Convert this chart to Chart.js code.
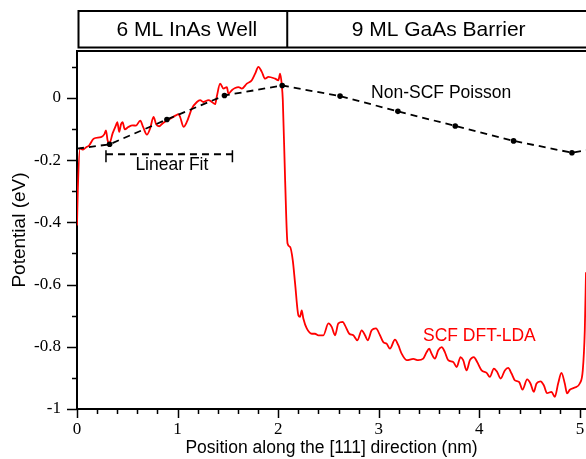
<!DOCTYPE html>
<html>
<head>
<meta charset="utf-8">
<script src="https://cdn.jsdelivr.net/npm/chart.js@4/dist/chart.umd.min.js"></script>
<style>
  html, body { margin: 0; padding: 0; background: #fff; }
  #wrap { width: 586px; height: 459px; position: relative; }
</style>
</head>
<body>
<div id="wrap"><canvas id="c" width="586" height="459"></canvas></div>
<script>
// ---------- DATA ----------
const redX = [0.000, 0.008, 0.030, 0.056, 0.089, 0.122, 0.165, 0.238, 0.271, 0.288,
  0.304, 0.321, 0.354, 0.387, 0.401, 0.420, 0.437, 0.453, 0.475, 0.512,
  0.552, 0.586, 0.629, 0.658, 0.695, 0.728, 0.761, 0.787, 0.817, 0.850,
  0.894, 0.936, 0.983, 1.009, 1.026, 1.059, 1.092, 1.142, 1.192, 1.224,
  1.257, 1.307, 1.341, 1.373, 1.390, 1.423, 1.456, 1.490, 1.505, 1.539,
  1.572, 1.605, 1.639, 1.688, 1.738, 1.771, 1.803, 1.837, 1.870, 1.903,
  1.969, 2.002, 2.019, 2.036, 2.046, 2.069, 2.093, 2.118, 2.145, 2.168,
  2.201, 2.217, 2.234, 2.250, 2.284, 2.334, 2.366, 2.399, 2.449, 2.499,
  2.532, 2.565, 2.598, 2.642, 2.664, 2.707, 2.747, 2.787, 2.830, 2.863,
  2.890, 2.929, 2.972, 3.012, 3.045, 3.078, 3.111, 3.161, 3.194, 3.227,
  3.277, 3.343, 3.392, 3.442, 3.476, 3.501, 3.525, 3.558, 3.591, 3.625,
  3.657, 3.690, 3.740, 3.774, 3.813, 3.839, 3.873, 3.906, 3.945, 3.978,
  4.022, 4.072, 4.104, 4.144, 4.177, 4.211, 4.253, 4.286, 4.320, 4.353,
  4.395, 4.429, 4.475, 4.508, 4.541, 4.568, 4.608, 4.641, 4.673, 4.717,
  4.750, 4.783, 4.816, 4.849, 4.872, 4.899, 4.948, 4.998, 5.028, 5.048,
  5.060];
const redY = [-0.410, -0.297, -0.162, -0.166, -0.159, -0.152, -0.131, -0.126, -0.117, -0.104,
  -0.136, -0.147, -0.114, -0.088, -0.078, -0.109, -0.085, -0.078, -0.101, -0.093,
  -0.088, -0.089, -0.073, -0.094, -0.118, -0.097, -0.061, -0.085, -0.091, -0.082,
  -0.072, -0.065, -0.056, -0.052, -0.062, -0.093, -0.077, -0.034, -0.013, -0.007,
  -0.013, -0.007, -0.013, -0.020, 0.005, 0.046, 0.030, 0.035, 0.014, 0.025,
  0.032, 0.035, 0.030, 0.046, 0.057, 0.078, 0.100, 0.084, 0.062, 0.068,
  0.062, 0.057, 0.078, 0.041, -0.007, -0.265, -0.468, -0.479, -0.522, -0.596,
  -0.699, -0.704, -0.683, -0.709, -0.741, -0.758, -0.758, -0.763, -0.763, -0.725,
  -0.736, -0.763, -0.725, -0.720, -0.731, -0.758, -0.763, -0.779, -0.747, -0.763,
  -0.779, -0.747, -0.741, -0.763, -0.785, -0.790, -0.806, -0.777, -0.795, -0.822,
  -0.843, -0.839, -0.843, -0.838, -0.817, -0.806, -0.822, -0.838, -0.811, -0.801,
  -0.817, -0.843, -0.849, -0.865, -0.833, -0.843, -0.876, -0.843, -0.833, -0.849,
  -0.876, -0.884, -0.897, -0.870, -0.881, -0.902, -0.876, -0.868, -0.886, -0.908,
  -0.913, -0.938, -0.905, -0.918, -0.945, -0.918, -0.911, -0.924, -0.949, -0.945,
  -0.961, -0.918, -0.884, -0.918, -0.950, -0.938, -0.931, -0.918, -0.876, -0.747,
  -0.560];

const poissonX = [0.000, 0.324, 0.894, 1.466, 2.040, 2.615, 3.190, 3.760, 4.340, 4.920, 5.060];
const poissonY = [-0.163, -0.149, -0.069, 0.008, 0.040, 0.006, -0.043, -0.090, -0.138, -0.176, -0.168];
const poissonMarked = [false, true, true, true, true, true, true, true, true, true, false];

const linearFitX = [0.288, 1.545];
const linearFitY = -0.181;

const regionBounds = [0, 2.09, 5.06];
const regionLabels = ['6 ML InAs Well', '9 ML GaAs Barrier'];

const xTicks = [0, 1, 2, 3, 4, 5];
const yTicks = [0, -0.2, -0.4, -0.6, -0.8, -1];
const xRange = [0, 5.06];
const yRange = [-1, 0.151];

const seriesNames = ['SCF DFT-LDA', 'Non-SCF Poisson'];
const labelSpots = [
  { text: 'Non-SCF Poisson', x: 3.62, y: 0.015, color: '#000' },
  { text: 'SCF DFT-LDA', x: 4.00, y: -0.767, color: '#ff0000' },
  { text: 'Linear Fit', x: 0.943, y: -0.217, color: '#000' }
];

const xTitle = 'Position along the [111] direction (nm)';
const yTitle = 'Potential (eV)';

// ---------- DRAWING ----------
const SANS = '"Liberation Sans", Arial, Helvetica, sans-serif';
const SERIF = '"Liberation Serif", "Times New Roman", serif';

const decor = {
  id: 'decor',
  afterDraw(chart) {
    const { ctx, chartArea: a, scales: { x, y } } = chart;
    ctx.save();
    ctx.strokeStyle = '#000';
    ctx.fillStyle = '#000';
    ctx.setLineDash([]);
    // frame top
    ctx.lineWidth = 2;
    ctx.beginPath();
    ctx.moveTo(a.left - 1, a.top);
    ctx.lineTo(chart.width + 2, a.top);
    ctx.stroke();

    // tick marks (major + minor)
    ctx.lineWidth = 1.5;
    ctx.beginPath();
    for (let i = 0; i * 0.2 <= xRange[1] + 1e-9; i++) {
      const v = i * 0.2;
      const major = i % 5 === 0;
      const px = Math.round(x.getPixelForValue(v)) + 0.5;
      ctx.moveTo(px, a.bottom);
      ctx.lineTo(px, a.bottom + (major ? 9 : 5));
    }
    for (let i = -10; i * 0.1 <= yRange[1] + 1e-9; i++) {
      const v = i * 0.1;
      const major = i % 2 === 0;
      const py = Math.round(y.getPixelForValue(v)) + 0.5;
      ctx.moveTo(a.left, py);
      ctx.lineTo(a.left - (major ? 10 : 5), py);
    }
    ctx.stroke();

    // header boxes
    const hTop = 11, hBot = 47.5;
    const hl = x.getPixelForValue(regionBounds[0]) + 1.5;
    const hm = x.getPixelForValue(regionBounds[1]);
    const hr = chart.width + 4;
    ctx.lineWidth = 2;
    ctx.strokeRect(hl, hTop, hr - hl, hBot - hTop);
    ctx.beginPath();
    ctx.moveTo(hm, hTop);
    ctx.lineTo(hm, hBot);
    ctx.stroke();
    ctx.font = '21px ' + SANS;
    ctx.textAlign = 'center';
    ctx.textBaseline = 'middle';
    ctx.fillText(regionLabels[0], (hl + hm) / 2 + 4, (hTop + hBot) / 2 + 1);
    ctx.fillText(regionLabels[1], (hm + Math.min(hr, chart.width)) / 2 + 2, (hTop + hBot) / 2 + 1);

    // linear fit bracket
    const lx0 = x.getPixelForValue(linearFitX[0]);
    const lx1 = x.getPixelForValue(linearFitX[1]);
    const ly = y.getPixelForValue(linearFitY);
    ctx.lineWidth = 2;
    ctx.setLineDash([7, 5]);
    ctx.beginPath();
    ctx.moveTo(lx0, ly);
    ctx.lineTo(lx1, ly);
    ctx.stroke();
    ctx.setLineDash([]);
    ctx.lineWidth = 1.5;
    ctx.beginPath();
    ctx.moveTo(lx0, ly - 4);
    ctx.lineTo(lx0, ly + 8);
    ctx.moveTo(lx1, ly - 4);
    ctx.lineTo(lx1, ly + 8);
    ctx.stroke();

    // text labels
    ctx.font = '17.5px ' + SANS;
    for (const s of labelSpots) {
      ctx.fillStyle = s.color;
      ctx.fillText(s.text, x.getPixelForValue(s.x), y.getPixelForValue(s.y));
    }
    ctx.restore();
  }
};

new Chart(document.getElementById('c'), {
  type: 'line',
  data: {
    datasets: [
      {
        label: seriesNames[0],
        data: redX.map((v, i) => ({ x: v, y: redY[i] })),
        borderColor: '#ff0000',
        borderWidth: 1.8,
        pointRadius: 0,
        cubicInterpolationMode: 'monotone',
        fill: false,
        order: 2
      },
      {
        label: seriesNames[1],
        data: poissonX.map((v, i) => ({ x: v, y: poissonY[i] })),
        borderColor: '#000',
        borderWidth: 1.8,
        borderDash: [7, 5],
        tension: 0,
        pointRadius: ctx => poissonMarked[ctx.dataIndex] ? 2.8 : 0,
        pointBackgroundColor: '#000',
        pointBorderColor: '#000',
        pointBorderWidth: 0,
        fill: false,
        order: 1
      }
    ]
  },
  options: {
    responsive: false,
    animation: false,
    devicePixelRatio: 1,
    layout: { padding: { top: 51, right: 0, bottom: 0, left: 0 } },
    plugins: {
      legend: { display: false },
      tooltip: { enabled: false },
      title: { display: false }
    },
    scales: {
      x: {
        type: 'linear',
        min: xRange[0],
        max: xRange[1],
        afterBuildTicks: s => { s.ticks = xTicks.map(v => ({ value: v })); },
        afterFit: s => { s.height = 50; s.paddingRight = 0; s.paddingLeft = 0; },
        ticks: {
          autoSkip: false,
          maxRotation: 0,
          padding: 1,
          color: '#000',
          font: { family: SERIF, size: 17 },
          callback: v => String(v)
        },
        grid: { display: true, drawOnChartArea: false, tickLength: 9, tickColor: 'rgba(0,0,0,0)' },
        border: { display: true, color: '#000', width: 2 },
        title: {
          display: true,
          text: xTitle,
          color: '#000',
          font: { family: SANS, size: 17.5 },
          padding: { top: 0, bottom: 0 }
        }
      },
      y: {
        type: 'linear',
        min: yRange[0],
        max: yRange[1],
        afterBuildTicks: s => { s.ticks = yTicks.map(v => ({ value: v })); },
        afterFit: s => { s.width = 77; },
        ticks: {
          padding: 6,
          color: '#000',
          font: { family: SERIF, size: 17 },
          callback: v => String(Math.round(v * 10) / 10)
        },
        grid: { display: true, drawOnChartArea: false, tickLength: 10, tickColor: 'rgba(0,0,0,0)' },
        border: { display: true, color: '#000', width: 2 },
        title: {
          display: true,
          text: yTitle,
          color: '#000',
          font: { family: SANS, size: 19 },
          padding: { top: 8, bottom: 0 }
        }
      }
    }
  },
  plugins: [decor]
});
</script>
</body>
</html>
